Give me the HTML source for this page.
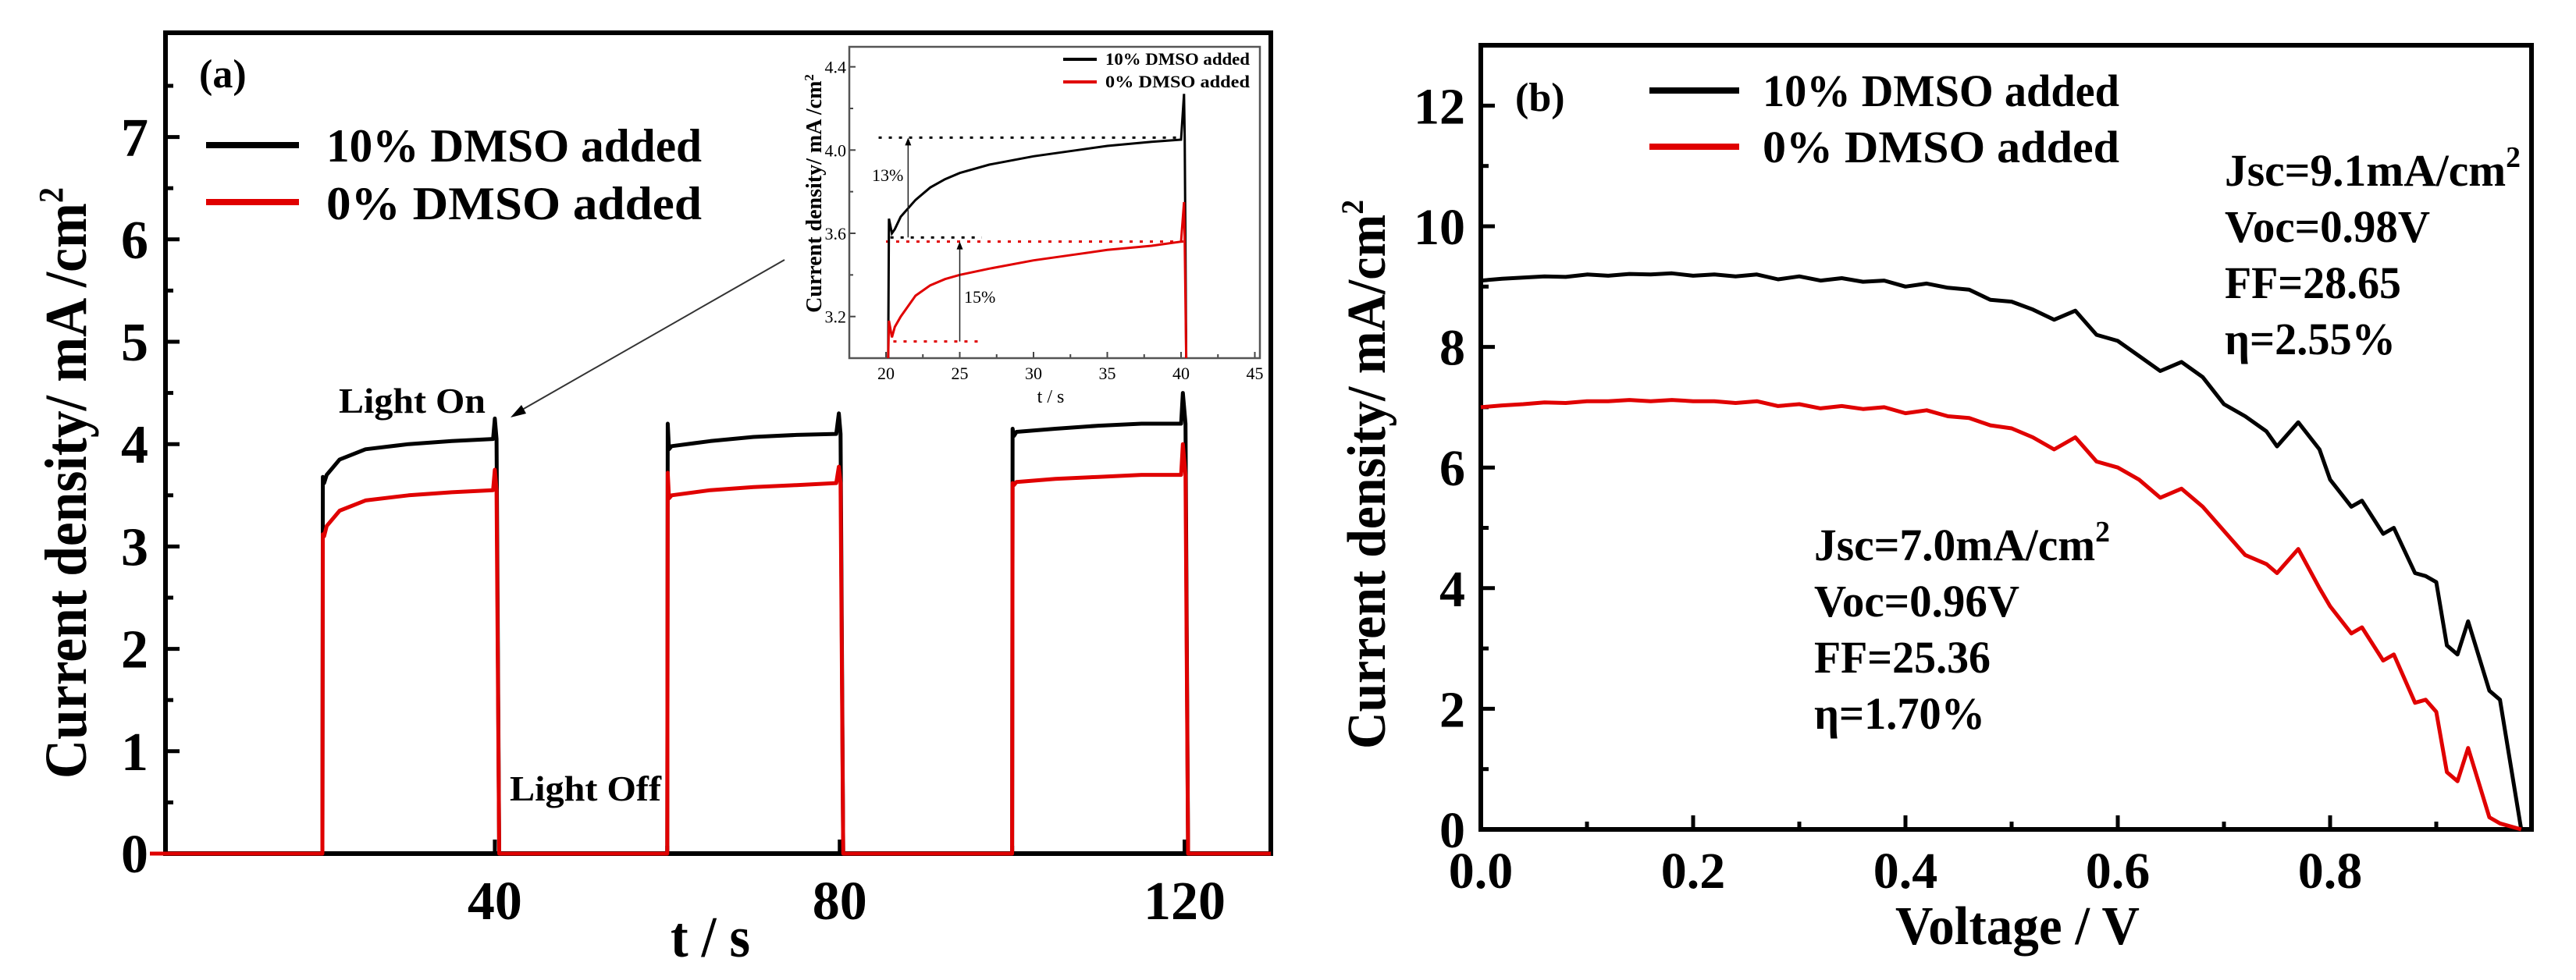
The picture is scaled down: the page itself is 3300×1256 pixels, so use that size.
<!DOCTYPE html>
<html><head><meta charset="utf-8"><style>
html,body{margin:0;padding:0;background:#fff;}
svg{display:block;font-family:"Liberation Serif",serif;font-weight:bold;}
</style></head><body>
<svg id="fig" width="3300" height="1256" viewBox="0 0 3300 1256" xmlns="http://www.w3.org/2000/svg">
<rect width="3300" height="1256" fill="#fff"/>
<g id="pa"></g>
<g id="pb"></g>
</svg>
<script>
// ---------- Panel (a) data ----------
const aTimes = [0,20,20.05,20.2,20.5,22,25,30,35,39.8,40,40.2,40.5,60,60.05,60.2,60.5,65,70,75,79.6,79.9,80.1,80.4,100,100.05,100.2,100.5,105,110,115,119.6,119.8,120.1,120.4,130];
const aBlack = [0,0,3.68,3.62,3.7,3.85,3.95,4.0,4.03,4.05,4.25,4.05,0,0,4.2,3.95,3.98,4.03,4.07,4.09,4.1,4.3,4.1,0,0,4.15,4.08,4.12,4.15,4.18,4.2,4.2,4.5,4.2,0,0];
const aRed = [0,0,3.12,3.1,3.2,3.35,3.45,3.5,3.53,3.55,3.75,3.55,0,0,3.72,3.47,3.5,3.55,3.58,3.6,3.62,3.78,3.62,0,0,3.62,3.6,3.63,3.66,3.68,3.7,3.7,4.0,3.7,0,0];
const aXTicks = [40,80,120];
const aXMinor = [20,60,100];
const aYTicks = [0,1,2,3,4,5,6,7];
// inset
const inTimes = [20.15,20.2,20.4,20.6,21,22,23,24,25,27,30,33,35,38,40,40.2,40.25,40.35];
const inBlack = [3.0,3.67,3.6,3.62,3.68,3.76,3.82,3.86,3.89,3.93,3.97,4.0,4.02,4.04,4.05,4.27,4.05,3.0];
const inRed = [3.0,3.18,3.1,3.15,3.2,3.3,3.35,3.38,3.4,3.43,3.47,3.5,3.52,3.54,3.56,3.75,3.56,3.0];
const inXTicks = [20,25,30,35,40,45];
const inYTicks = [3.2,3.6,4.0,4.4];
const inYLabels = ["3.2","3.6","4.0","4.4"];
// ---------- Panel (b) data ----------
const bVolt = [0,0.02,0.04,0.06,0.08,0.1,0.12,0.14,0.16,0.18,0.2,0.22,0.24,0.26,0.28,0.3,0.32,0.34,0.36,0.38,0.4,0.42,0.44,0.46,0.48,0.5,0.52,0.54,0.56,0.58,0.6,0.62,0.64,0.66,0.68,0.7,0.72,0.74,0.75,0.77,0.79,0.8,0.82,0.83,0.85,0.86,0.88,0.89,0.9,0.91,0.92,0.93,0.95,0.96,0.98];
const bBlack = [9.1,9.13,9.15,9.17,9.16,9.2,9.18,9.21,9.2,9.22,9.18,9.2,9.17,9.2,9.12,9.17,9.1,9.14,9.08,9.1,9.0,9.05,8.98,8.95,8.78,8.75,8.62,8.45,8.6,8.2,8.1,7.85,7.6,7.75,7.5,7.05,6.85,6.6,6.35,6.75,6.3,5.8,5.35,5.45,4.9,5.0,4.25,4.2,4.1,3.05,2.9,3.45,2.3,2.15,0];
const bRed = [7.0,7.03,7.05,7.08,7.07,7.1,7.1,7.12,7.1,7.12,7.1,7.1,7.07,7.1,7.02,7.05,6.98,7.02,6.97,7.0,6.9,6.95,6.85,6.82,6.7,6.65,6.5,6.3,6.5,6.1,6.0,5.8,5.5,5.65,5.35,4.95,4.55,4.4,4.25,4.65,4.0,3.7,3.25,3.35,2.8,2.9,2.1,2.15,1.95,0.95,0.8,1.35,0.2,0.1,0];
const bXTicks = [0,0.2,0.4,0.6,0.8];
const bXLabels = ["0.0","0.2","0.4","0.6","0.8"];
const bXMinor = [0.1,0.3,0.5,0.7,0.9];
const bYTicks = [0,2,4,6,8,10,12];
const bYMinor = [1,3,5,7,9,11];

const NS = "http://www.w3.org/2000/svg";
function mk(parent, tag, attrs, text){
  const e = document.createElementNS(NS, tag);
  for (const k in attrs) e.setAttribute(k, attrs[k]);
  if (text !== undefined) e.textContent = text;
  parent.appendChild(e);
  return e;
}
function pathFrom(xs, ys, sx, sy){
  let d = "";
  for (let i=0;i<xs.length;i++) d += (i?"L":"M") + sx(xs[i]).toFixed(1) + "," + sy(ys[i]).toFixed(1);
  return d;
}

// ===== Panel A =====
const pa = document.getElementById("pa");
const aL=212,aR=1628,aT=42,aB=1094;
const ax = t => aL + (t-1.8)*(aR-aL)/(130-1.8);
const ay = v => aB - v*131.2;
let e;
e = mk(pa,"rect",{x:aL,y:aT,width:aR-aL,height:aB-aT,fill:"none",stroke:"#000","stroke-width":6});


aYTicks.forEach(v=>{
  e = mk(pa,"line",{x1:aL,x2:aL+18,y1:ay(v),y2:ay(v),stroke:"#000","stroke-width":5});
  
  
  e = mk(pa,"line",{x1:aL,x2:aL+10,y1:ay(v+0.5),y2:ay(v+0.5),stroke:"#000","stroke-width":5});
  
  
  e = mk(pa,"text",{x:aL-22,y:ay(v)+24,"text-anchor":"end","font-size":70},String(v));
  
  
});
aXTicks.forEach(t=>{
  e = mk(pa,"line",{x1:ax(t),x2:ax(t),y1:aB,y2:aB-18,stroke:"#000","stroke-width":5});
  
  
  e = mk(pa,"text",{x:ax(t),y:1178,"text-anchor":"middle","font-size":70},String(t));
  
  
});
aXMinor.forEach(t=>{
  e = mk(pa,"line",{x1:ax(t),x2:ax(t),y1:aB,y2:aB-10,stroke:"#000","stroke-width":5});
  
  
});
e = mk(pa,"path",{d:pathFrom(aTimes,aBlack,ax,ay),fill:"none",stroke:"#000","stroke-width":5,"stroke-linejoin":"round"});


e = mk(pa,"path",{d:pathFrom(aTimes,aRed,ax,ay),fill:"none",stroke:"#e00000","stroke-width":5,"stroke-linejoin":"round"});


e = mk(pa,"text",{x:910,y:1226,"text-anchor":"middle","font-size":74,textLength:102,lengthAdjust:"spacingAndGlyphs"},"t / s");


e = mk(pa,"text",{x:0,y:0,"text-anchor":"middle","font-size":76,transform:"translate(110,619) rotate(-90)",textLength:758,lengthAdjust:"spacingAndGlyphs"});


mk(e,"tspan",{},"Current density/ mA /cm");
mk(e,"tspan",{dy:-30,"font-size":44},"2");
e = mk(pa,"text",{x:255,y:112,"font-size":52},"(a)");


// legend a
e = mk(pa,"line",{x1:264,x2:383,y1:186,y2:186,stroke:"#000","stroke-width":8});


e = mk(pa,"line",{x1:264,x2:383,y1:259,y2:259,stroke:"#e00000","stroke-width":8});


e = mk(pa,"text",{x:418,y:207,"font-size":60,textLength:481,lengthAdjust:"spacingAndGlyphs"},"10% DMSO added");


e = mk(pa,"text",{x:418,y:281,"font-size":60,textLength:481,lengthAdjust:"spacingAndGlyphs","xml:space":"preserve"},"0%   DMSO added");


e = mk(pa,"text",{x:434,y:529,"font-size":46,textLength:188,lengthAdjust:"spacingAndGlyphs"},"Light On");


e = mk(pa,"text",{x:653,y:1026,"font-size":46,textLength:194,lengthAdjust:"spacingAndGlyphs"},"Light Off");


// pointer arrow
e = mk(pa,"line",{x1:1005,y1:333,x2:662,y2:529,stroke:"#333","stroke-width":2});


e = mk(pa,"path",{d:"M654,535 L668,519 L674,530 Z",fill:"#000"});



// ===== Inset =====
const ins = mk(pa,"g",{});


const iL=1088,iR=1614,iT=60,iB=459;
const ix = t => 1135 + (t-20)*18.9;
const iy = v => 299 - (v-3.6)*266.7;
mk(ins,"clipPath",{id:"iclip"}).appendChild(document.createElementNS(NS,"rect"));
const cr = document.querySelector("#iclip rect");
cr.setAttribute("x",iL);cr.setAttribute("y",iT);cr.setAttribute("width",iR-iL);cr.setAttribute("height",iB-iT);
inXTicks.forEach(t=>{
  e = mk(ins,"line",{x1:ix(t),x2:ix(t),y1:iB,y2:iB-8,stroke:"#444","stroke-width":2});
  
  
  if (ix(t+2.5) < iR) {
    e = mk(ins,"line",{x1:ix(t+2.5),x2:ix(t+2.5),y1:iB,y2:iB-5,stroke:"#444","stroke-width":2});
    
    
  }
  e = mk(ins,"text",{x:ix(t),y:486,"text-anchor":"middle","font-size":22,"font-weight":"normal"},String(t));
  
  
});
inYTicks.forEach((v,i)=>{
  e = mk(ins,"line",{x1:iL,x2:iL+8,y1:iy(v),y2:iy(v),stroke:"#444","stroke-width":2});
  
  
  if (iy(v+0.2) > iT) {
    e = mk(ins,"line",{x1:iL,x2:iL+5,y1:iy(v+0.2),y2:iy(v+0.2),stroke:"#444","stroke-width":2});
    
    
  }
  e = mk(ins,"text",{x:iL-4,y:iy(v)+8,"text-anchor":"end","font-size":22,"font-weight":"normal"},inYLabels[i]);
  
  
});
e = mk(ins,"rect",{x:iL,y:iT,width:iR-iL,height:iB-iT,fill:"none",stroke:"#555","stroke-width":2.5});


// guide lines
const guides = [[19.5,40,4.06,"#000"],[20.3,26.5,3.58,"#000"],[20,40.5,3.56,"#e00000"],[20.5,26.3,3.08,"#e00000"]];
guides.forEach(g=>{
  e = mk(ins,"line",{x1:ix(g[0]),x2:ix(g[1]),y1:iy(g[2]),y2:iy(g[2]),stroke:g[3],"stroke-width":3,"stroke-dasharray":"4 9"});
  
  
});
e = mk(ins,"path",{d:pathFrom(inTimes,inBlack,ix,iy),fill:"none",stroke:"#000","stroke-width":3,"clip-path":"url(#iclip)"});


e = mk(ins,"path",{d:pathFrom(inTimes,inRed,ix,iy),fill:"none",stroke:"#e00000","stroke-width":3,"clip-path":"url(#iclip)"});


[[21.5,3.58,4.06],[25,3.08,3.56]].forEach(a=>{
  e = mk(ins,"line",{x1:ix(a[0]),x2:ix(a[0]),y1:iy(a[1]),y2:iy(a[2])+8,stroke:"#222","stroke-width":1.5});
  
  
  e = mk(ins,"path",{d:`M${ix(a[0])},${iy(a[2])} l-4,10 l8,0 Z`,fill:"#000"});
  
  
});
e = mk(ins,"text",{x:1117,y:232,"font-size":22,"font-weight":"normal"},"13%");


e = mk(ins,"text",{x:1235,y:388,"font-size":22,"font-weight":"normal"},"15%");


e = mk(ins,"line",{x1:1362,x2:1405,y1:76,y2:76,stroke:"#000","stroke-width":4});


e = mk(ins,"line",{x1:1362,x2:1405,y1:105,y2:105,stroke:"#e00000","stroke-width":4});


e = mk(ins,"text",{x:1416,y:83,"font-size":22,textLength:185,lengthAdjust:"spacingAndGlyphs"},"10% DMSO added");


e = mk(ins,"text",{x:1416,y:112,"font-size":22,textLength:185,lengthAdjust:"spacingAndGlyphs","xml:space":"preserve"},"0%   DMSO added");


e = mk(ins,"text",{x:1346,y:516,"text-anchor":"middle","font-size":24,"font-weight":"normal"},"t / s");


e = mk(ins,"text",{x:0,y:0,"text-anchor":"middle","font-size":28,transform:"translate(1052,248) rotate(-90)"});


mk(e,"tspan",{},"Current density/ mA /cm");
mk(e,"tspan",{dy:-10,"font-size":17},"2");

// ===== Panel B =====
const pb = document.getElementById("pb");
const bL=1897,bR=3243,bT=58,bB=1063;
const bx = v => bL + v*1360;
const by = j => bB - j*77.3;
e = mk(pb,"rect",{x:bL,y:bT,width:bR-bL,height:bB-bT,fill:"none",stroke:"#000","stroke-width":6});


bYTicks.forEach(v=>{
  e = mk(pb,"line",{x1:bL,x2:bL+18,y1:by(v),y2:by(v),stroke:"#000","stroke-width":5});
  
  
  e = mk(pb,"text",{x:bL-20,y:by(v)+23,"text-anchor":"end","font-size":66},String(v));
  
  
});
bYMinor.forEach(v=>{
  e = mk(pb,"line",{x1:bL,x2:bL+10,y1:by(v),y2:by(v),stroke:"#000","stroke-width":5});
  
  
});
bXTicks.forEach((v,i)=>{
  e = mk(pb,"line",{x1:bx(v),x2:bx(v),y1:bB,y2:bB-18,stroke:"#000","stroke-width":5});
  
  
  e = mk(pb,"text",{x:bx(v),y:1138,"text-anchor":"middle","font-size":66},bXLabels[i]);
  
  
});
bXMinor.forEach(v=>{
  e = mk(pb,"line",{x1:bx(v),x2:bx(v),y1:bB,y2:bB-10,stroke:"#000","stroke-width":5});
  
  
});
e = mk(pb,"path",{d:pathFrom(bVolt,bBlack,bx,by),fill:"none",stroke:"#000","stroke-width":5,"stroke-linejoin":"round"});


e = mk(pb,"path",{d:pathFrom(bVolt,bRed,bx,by),fill:"none",stroke:"#e00000","stroke-width":5,"stroke-linejoin":"round"});


e = mk(pb,"text",{x:2428,y:1210,"font-size":70,textLength:313,lengthAdjust:"spacingAndGlyphs"},"Voltage / V");


e = mk(pb,"text",{x:0,y:0,"text-anchor":"middle","font-size":70,transform:"translate(1774,608) rotate(-90)",textLength:704,lengthAdjust:"spacingAndGlyphs"});


mk(e,"tspan",{},"Current density/ mA/cm");
mk(e,"tspan",{dy:-28,"font-size":40},"2");
e = mk(pb,"text",{x:1941,y:142,"font-size":52},"(b)");


e = mk(pb,"line",{x1:2113,x2:2228,y1:116,y2:116,stroke:"#000","stroke-width":8});


e = mk(pb,"line",{x1:2113,x2:2228,y1:188,y2:188,stroke:"#e00000","stroke-width":8});


e = mk(pb,"text",{x:2258,y:136,"font-size":58,textLength:457,lengthAdjust:"spacingAndGlyphs"},"10% DMSO added");


e = mk(pb,"text",{x:2258,y:208,"font-size":58,textLength:457,lengthAdjust:"spacingAndGlyphs","xml:space":"preserve"},"0%   DMSO added");


function ann(x, y, lines, widths, name){
  lines.forEach((s,i)=>{
    const t = mk(pb,"text",{x:x,y:y+i*72,"font-size":58,textLength:widths[i],lengthAdjust:"spacingAndGlyphs"});
    
    
    if (i===0){ mk(t,"tspan",{},s); mk(t,"tspan",{dy:-24,"font-size":38},"2"); }
    else t.textContent = s;
  });
}
ann(2850,238,["Jsc=9.1mA/cm","Voc=0.98V","FF=28.65","η=2.55%"],[379,263,226,219],"annotation-10-dmso");
ann(2324,718,["Jsc=7.0mA/cm","Voc=0.96V","FF=25.36","η=1.70%"],[379,263,226,219],"annotation-0-dmso");
</script>
</body></html>
